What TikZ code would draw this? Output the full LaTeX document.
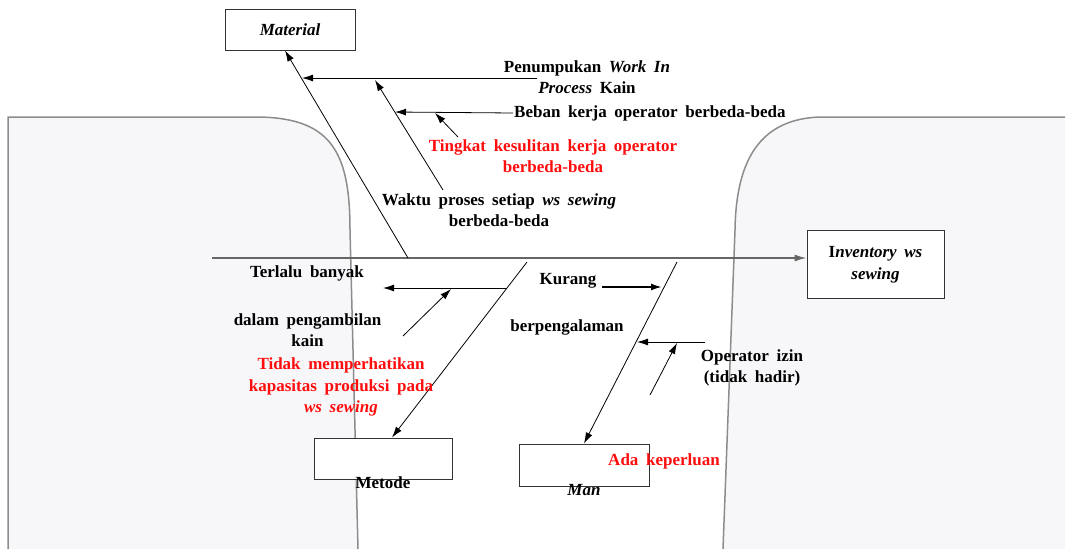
\documentclass[tikz,border=0pt]{standalone}
\usepackage{fontspec}
\setmainfont{Liberation Serif}
\usetikzlibrary{arrows.meta,positioning}
\definecolor{mygray}{rgb}{0.97,0.97,0.98}
\definecolor{myedge}{rgb}{0.55,0.55,0.55}
\definecolor{myspine}{rgb}{0.4,0.4,0.4}
\definecolor{myred}{rgb}{1,0.05,0.05}
\newcommand{\widesp}{\spaceskip=0.45em plus 0.1em\relax}
\tikzset{
  box/.style={rectangle, draw=black!80, line width=1pt, fill=white},
  bone/.style={draw, line width=0.8pt, -{Latex[length=11pt,width=7pt]}},
  spine/.style={draw=myspine, line width=1.4pt, -{Latex[length=12pt,width=7pt]}},
  lbl/.style={font=\fontsize{17}{21.5}\selectfont\bfseries\widesp, align=center, inner sep=1pt},
  redlbl/.style={lbl, text=myred},
  shade/.style={fill=mygray},
  rim/.style={draw=myedge, line width=1.5pt}
}

\begin{document}
\begin{tikzpicture}[x=1pt,y=-1pt]
\useasboundingbox (0,0) rectangle (1065,549);

% backdrop
\fill[shade] (8,549) -- (8,117) -- (255,117) .. controls (330,117) and (350,150) .. (350,230) -- (358,549) -- cycle;
\draw[rim] (8,549) -- (8,117) -- (255,117) .. controls (330,117) and (350,150) .. (350,230) -- (358,549);
\fill[shade] (1065,117) -- (820,117) .. controls (760,119) and (736,160) .. (735,230) -- (723,549) -- (1065,549) -- cycle;
\draw[rim] (1065,117) -- (820,117) .. controls (760,119) and (736,160) .. (735,230) -- (723,549);

% boxes
\node [box, minimum width=130pt, minimum height=41pt] (material) at (290,29.5)
{\fontsize{17}{21.5}\selectfont\bfseries\itshape Material};
\node [box, lbl, minimum width=137pt, minimum height=68pt] (inventory) at (875.5,264.5)
{I\textit{nventory ws}\\ \textit{sewing}};
\node [box, minimum width=138pt, minimum height=41pt] (metode) at (383,458.5) {};
\node [box, minimum width=130pt, minimum height=42pt] (man) at (584,465) {};
\node [lbl] (metodelbl) at ([yshift=-3pt]metode.south) {Metode};
\node [lbl] (manlbl) at ([yshift=-4pt]man.south) {\textit{Man}};

% spine
\coordinate (tail) at (212,258);
\draw[spine] (tail) -- (tail -| inventory.west);

% material
\coordinate (matfoot) at (408,258);
\coordinate (wipstart) at (537,78);
\coordinate (wiptip) at (302,78);
\coordinate (wsfoot) at (443,190);
\coordinate (wstip) at (375,80);
\coordinate (bebantip) at (395,112);
\coordinate (tkfoot) at (458,137);
\coordinate (tktip) at (435,113);
\draw[bone] (matfoot) -- ([xshift=-5pt]material.south);
\draw[bone] (wipstart) -- (wiptip);
\draw[bone] (wsfoot) -- (wstip);

\node [lbl] (penumpukan) at (587,77) {Penumpukan \textit{Work In}\\ \textit{Process} Kain};
\node [lbl, anchor=west] (beban) at (513,113) {Beban kerja operator berbeda-beda};
\node [redlbl] (tingkat) at (553,156) {Tingkat kesulitan kerja operator\\ berbeda-beda};
\node [lbl] (waktu) at (499,210) {Waktu proses setiap \textit{ws sewing}\\ berbeda-beda};
\draw[bone] (beban.west) -- (bebantip);
\draw[bone] (tkfoot) -- (tktip);

% metode
\coordinate (metfoot) at (527,262);
\coordinate (tbstart) at (506,288);
\coordinate (tbtip) at (383,288);
\coordinate (dpfoot) at (403,336);
\coordinate (dptip) at (451,289);
\draw[bone] (metfoot) -- ([xshift=9pt]metode.north);
\draw[bone] (tbstart) -- (tbtip);
\draw[bone] (dpfoot) -- (dptip);

\node [lbl] (terlalu) at (307,273) {Terlalu banyak};
\node [lbl] (dalam) at (307.5,330) {dalam pengambilan\\ kain};
\node [redlbl] (tidak) at (341,387) {Tidak memperhatikan\\ kapasitas produksi pada\\ \textit{ws sewing}};

% man
\coordinate (manfoot) at (677,262);
\coordinate (kgstart) at (602,287);
\coordinate (kgtip) at (662,287);
\coordinate (opstart) at (705,342);
\coordinate (optip) at (637,342);
\coordinate (akfoot) at (650,395);
\coordinate (aktip) at (677,343);
\draw[bone] (manfoot) -- (man.north);

\node [lbl] (kurang) at (568,281) {Kurang};
\node [lbl] (berpeng) at (567,327) {berpengalaman};
\node [lbl] (operator) at (752,368) {Operator izin\\ (tidak hadir)};
\node [redlbl] (ada) at (664,461) {Ada keperluan};
\draw[bone, line width=1.8pt] (kgstart) -- (kgtip);
\draw[bone] (opstart) -- (optip);
\draw[bone] (akfoot) -- (aktip);

\end{tikzpicture}
\end{document}
